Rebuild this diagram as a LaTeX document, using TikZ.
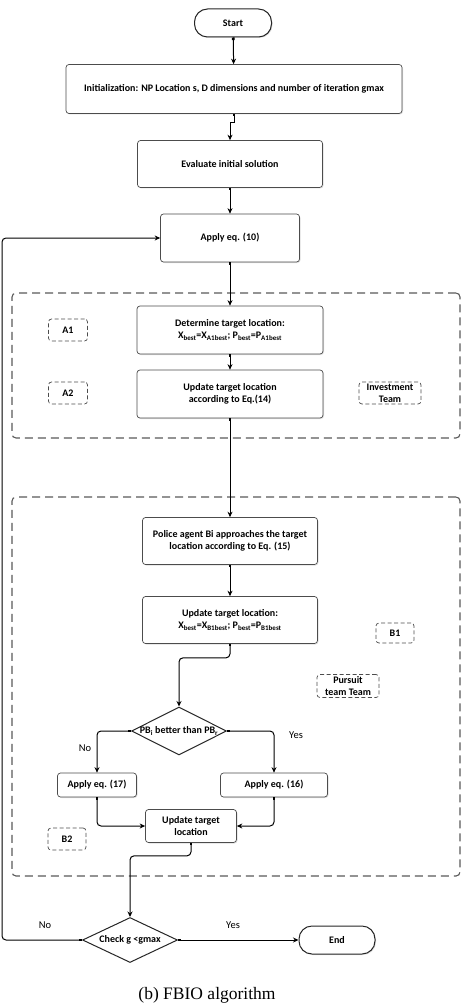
\documentclass[tikz,border=0pt]{standalone}
\usepackage{fontspec}
\setmainfont{Liberation Serif}
\newfontfamily\flowfont{Carlito}
\usetikzlibrary{shapes.geometric, arrows.meta, shadows}
\tikzset{
  boxtext/.style={
    font=\flowfont\bfseries\fontsize{10}{12}\selectfont,
    align=center,
    inner sep=0pt
  },
  stepbox/.style={
    boxtext,
    draw=black!70,
    line width=0.7pt,
    fill=white,
    rounded corners=3pt,
    drop shadow={opacity=0.25, shadow xshift=1pt, shadow yshift=-1pt}
  },
  termbox/.style={
    stepbox,
    draw=black!85,
    line width=1pt,
    rounded corners=13pt,
    minimum height=28pt
  },
  decision/.style={
    boxtext,
    diamond,
    aspect=2,
    draw=black!85,
    line width=1pt,
    fill=white
  },
  teambox/.style={
    boxtext,
    draw=black!70,
    line width=0.7pt,
    dash pattern=on 4pt off 2.5pt,
    rounded corners=3pt,
    minimum height=22pt
  },
  groupbox/.style={
    draw=black!65,
    line width=1.1pt,
    dash pattern=on 8pt off 5pt,
    rounded corners=4pt
  },
  flow/.style={
    line width=1pt,
    {Square[length=2.6pt,width=2.6pt]}-{Stealth[length=5.5pt,width=5pt]}
  },
  yesno/.style={font=\flowfont\fontsize{10.5}{12}\selectfont}
}

\begin{document}
\begin{tikzpicture}[x=1pt, y=-1pt]
\useasboundingbox (0,0) rectangle (474,1008);
% dashed team areas
\node (grpA) [groupbox, minimum width=448pt, minimum height=145pt] at (236,365.5) {};
\node (grpB) [groupbox, minimum width=448pt, minimum height=379pt] at (236,686.5) {};

% main steps
\node (start) [termbox, minimum width=77pt] at (233,23) {Start};
\node (init) [stepbox, minimum width=336pt, minimum height=49pt] at (234,89)
  {Initialization: NP Location s, D dimensions and number of iteration gmax};
\node (eval) [stepbox, minimum width=185pt, minimum height=47pt] at (230,164)
  {Evaluate initial solution};
\node (apply10) [stepbox, minimum width=139pt, minimum height=48pt] at (230,238)
  {Apply eq. (10)};
\node (determine) [stepbox, minimum width=186pt, minimum height=48pt] at (230,330)
  {Determine target location:\\X\textsubscript{best}=X\textsubscript{A1best}; P\textsubscript{best}=P\textsubscript{A1best}};
\node (update14) [stepbox, minimum width=186pt, minimum height=48pt] at (230,394)
  {Update target location\\according to Eq.(14)};
\node (police) [stepbox, minimum width=175pt, minimum height=47pt] at (230,541)
  {Police agent Bi approaches the target\\location according to Eq. (15)};
\node (updateB1) [stepbox, minimum width=175pt, minimum height=47pt] at (230,620)
  {Update target location:\\X\textsubscript{best}=X\textsubscript{B1best}; P\textsubscript{best}=P\textsubscript{B1best}};
\node (pbcheck) [decision, inner xsep=-6pt, minimum width=95pt, minimum height=48pt] at (179,731)
  {PB\textsubscript{i} better than PB\textsubscript{r}};
\node (apply17) [stepbox, minimum width=79pt, minimum height=24pt] at (97,785)
  {Apply eq. (17)};
\node (apply16) [stepbox, minimum width=107pt, minimum height=24pt] at (274,785)
  {Apply eq. (16)};
\node (updfinal) [stepbox, minimum width=91pt, minimum height=33pt] at (191,826)
  {Update target\\location};
\node (check) [decision, minimum width=95pt, minimum height=45pt] at (130,940)
  {Check g <gmax};
\node (end) [termbox, minimum width=76pt] at (337,940) {End};

% team labels
\node (tagA1) [teambox, minimum width=39pt] at (68,330) {A1};
\node (tagA2) [teambox, minimum width=39pt] at (68,393) {A2};
\node (tagInv) [teambox, minimum width=62pt] at (390,393) {Investment\\Team};
\node (tagB1) [teambox, minimum width=38pt, minimum height=20pt] at (395,633) {B1};
\node (tagPur) [teambox, minimum width=62pt, minimum height=23pt] at (348,686) {Pursuit\\team Team};
\node (tagB2) [teambox, minimum width=38pt] at (67,839) {B2};

% branch labels
\node (no1) [yesno] at (85,748) {No};
\node (yes1) [yesno] at (296,735) {Yes};
\node (no2) [yesno] at (45,925) {No};
\node (yes2) [yesno] at (233,925) {Yes};

% connectors
\draw[flow] (start) -- (init);
\draw[flow] (init.south) -- ++(0,9) -| (eval.north);
\draw[flow] (eval) -- (apply10);
\draw[flow] (apply10) -- (determine);
\draw[flow] (determine) -- (update14);
\draw[flow] (update14) -- (police);
\draw[flow] (police) -- (updateB1);
\draw[flow, rounded corners=4pt] (updateB1.south) -- ++(0,14) -| (pbcheck.north);
\draw[flow, rounded corners=4pt] (pbcheck.west) -| (apply17.north);
\draw[flow, rounded corners=4pt] (pbcheck.east) -| (apply16.north);
\draw[flow, rounded corners=4pt] (apply17.south) |- (updfinal.west);
\draw[flow, rounded corners=4pt] (apply16.south) |- (updfinal.east);
\draw[flow, rounded corners=4pt] (updfinal.south) -- ++(0,13) -| (check.north);
\draw[flow] (check.east) -- (end);
\draw[flow, rounded corners=4pt] (check.west) -- ++(-80,0) |- (apply10.west);

% caption
\node (caption) at (207,995) {\fontsize{17.5}{20}\selectfont (b) FBIO algorithm};
\end{tikzpicture}
\end{document}
